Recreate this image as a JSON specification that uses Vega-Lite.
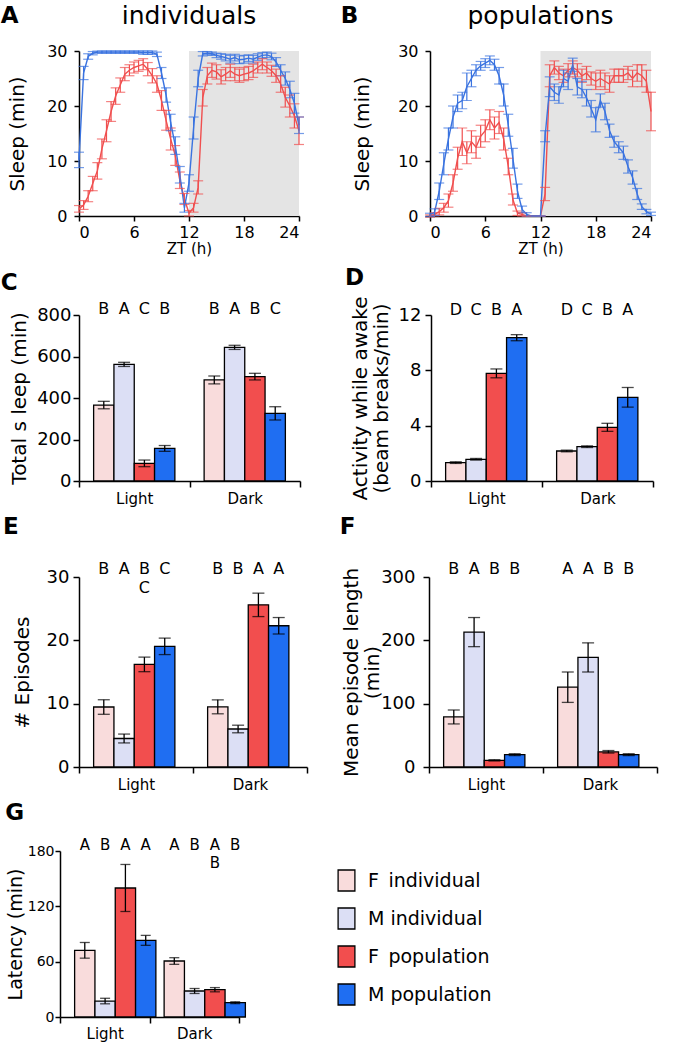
{
"$schema": "https://vega.github.io/schema/vega-lite/v6.json",
"padding": {"left": 0, "top": 4, "right": 5, "bottom": 5},
"config": {
  "font": "DejaVu Sans",
  "view": {"stroke": null},
  "axis": {"labelColor": "black", "titleColor": "black", "domainColor": "black", "tickColor": "black", "domainWidth": 1.5, "tickWidth": 1.5, "grid": false, "titleFontWeight": "normal", "tickSize": 6},
  "title": {"color": "black"},
  "text": {"color": "black"}
},
"datasets": {
 "ind": [
  {"s":"F","t":0,"v":1.3,"e":0.6},{"s":"F","t":0.5,"v":2,"e":0.8},{"s":"F","t":1,"v":3.6,"e":1},{"s":"F","t":1.5,"v":5.9,"e":1.3},{"s":"F","t":2,"v":8.2,"e":1.5},{"s":"F","t":2.5,"v":12.2,"e":1.8},{"s":"F","t":3,"v":15.5,"e":2},{"s":"F","t":3.5,"v":19,"e":1.8},{"s":"F","t":4,"v":21.8,"e":1.5},{"s":"F","t":4.5,"v":23.8,"e":1.3},{"s":"F","t":5,"v":25.8,"e":1.2},{"s":"F","t":5.5,"v":26.5,"e":1},{"s":"F","t":6,"v":27,"e":1},{"s":"F","t":6.5,"v":27.3,"e":1},{"s":"F","t":7,"v":27.6,"e":1},{"s":"F","t":7.5,"v":26.7,"e":1.2},{"s":"F","t":8,"v":25.5,"e":1.3},{"s":"F","t":8.5,"v":24,"e":1.5},{"s":"F","t":9,"v":21,"e":1.8},{"s":"F","t":9.5,"v":17.4,"e":1.8},{"s":"F","t":10,"v":14,"e":2},{"s":"F","t":10.5,"v":11,"e":1.8},{"s":"F","t":11,"v":6.5,"e":1.5},{"s":"F","t":11.5,"v":3.1,"e":1},{"s":"F","t":12,"v":0.5,"e":0.5},{"s":"F","t":12.5,"v":1.5,"e":0.8},{"s":"F","t":13,"v":5.2,"e":1.2},{"s":"F","t":13.5,"v":21.5,"e":1.5},{"s":"F","t":14,"v":25.5,"e":1.5},{"s":"F","t":14.5,"v":26.5,"e":1.3},{"s":"F","t":15,"v":26.2,"e":1.3},{"s":"F","t":15.5,"v":25.3,"e":1.3},{"s":"F","t":16,"v":25.8,"e":1.2},{"s":"F","t":16.5,"v":26.4,"e":1.2},{"s":"F","t":17,"v":25.8,"e":1.2},{"s":"F","t":17.5,"v":25.5,"e":1.2},{"s":"F","t":18,"v":25.8,"e":1.2},{"s":"F","t":18.5,"v":26,"e":1.2},{"s":"F","t":19,"v":26.4,"e":1.2},{"s":"F","t":19.5,"v":27,"e":1},{"s":"F","t":20,"v":27.6,"e":1},{"s":"F","t":20.5,"v":27,"e":1},{"s":"F","t":21,"v":26.4,"e":1},{"s":"F","t":21.5,"v":25.5,"e":1.2},{"s":"F","t":22,"v":24,"e":1.5},{"s":"F","t":22.5,"v":21.6,"e":1.8},{"s":"F","t":23,"v":20,"e":2},{"s":"F","t":23.5,"v":18.2,"e":2.2},{"s":"F","t":24,"v":15.5,"e":2.5},
  {"s":"M","t":0,"v":10.2,"e":1.4},{"s":"M","t":0.5,"v":26,"e":1.2},{"s":"M","t":1,"v":29,"e":0.5},{"s":"M","t":1.5,"v":29.6,"e":0.3},{"s":"M","t":2,"v":29.8,"e":0.2},{"s":"M","t":2.5,"v":29.8,"e":0.2},{"s":"M","t":3,"v":29.8,"e":0.2},{"s":"M","t":3.5,"v":29.8,"e":0.2},{"s":"M","t":4,"v":29.8,"e":0.2},{"s":"M","t":4.5,"v":29.8,"e":0.2},{"s":"M","t":5,"v":29.8,"e":0.2},{"s":"M","t":5.5,"v":29.8,"e":0.2},{"s":"M","t":6,"v":29.8,"e":0.2},{"s":"M","t":6.5,"v":29.8,"e":0.2},{"s":"M","t":7,"v":29.7,"e":0.3},{"s":"M","t":7.5,"v":29.7,"e":0.3},{"s":"M","t":8,"v":29.7,"e":0.3},{"s":"M","t":8.5,"v":29.4,"e":0.4},{"s":"M","t":9,"v":26,"e":1},{"s":"M","t":9.5,"v":22,"e":1.3},{"s":"M","t":10,"v":17,"e":1.5},{"s":"M","t":10.5,"v":12.8,"e":1.6},{"s":"M","t":11,"v":7.5,"e":1.5},{"s":"M","t":11.5,"v":1.5,"e":0.8},{"s":"M","t":12,"v":6,"e":1.5},{"s":"M","t":12.5,"v":16,"e":2},{"s":"M","t":13,"v":25,"e":1.5},{"s":"M","t":13.5,"v":29.5,"e":0.4},{"s":"M","t":14,"v":29.6,"e":0.3},{"s":"M","t":14.5,"v":29.5,"e":0.3},{"s":"M","t":15,"v":29.2,"e":0.4},{"s":"M","t":15.5,"v":29,"e":0.5},{"s":"M","t":16,"v":28.8,"e":0.6},{"s":"M","t":16.5,"v":28.5,"e":0.7},{"s":"M","t":17,"v":28.8,"e":0.6},{"s":"M","t":17.5,"v":28.4,"e":0.7},{"s":"M","t":18,"v":28.5,"e":0.7},{"s":"M","t":18.5,"v":28.7,"e":0.6},{"s":"M","t":19,"v":28.5,"e":0.7},{"s":"M","t":19.5,"v":28.9,"e":0.6},{"s":"M","t":20,"v":29.2,"e":0.5},{"s":"M","t":20.5,"v":29.3,"e":0.5},{"s":"M","t":21,"v":29,"e":0.6},{"s":"M","t":21.5,"v":28,"e":0.8},{"s":"M","t":22,"v":26.5,"e":1},{"s":"M","t":22.5,"v":25,"e":1.2},{"s":"M","t":23,"v":23,"e":1.5},{"s":"M","t":23.5,"v":20.5,"e":1.8},{"s":"M","t":24,"v":16.5,"e":1.5}
 ],
 "pop": [
  {"s":"F","t":0,"v":0,"e":0.2},{"s":"F","t":0.5,"v":0.3,"e":0.3},{"s":"F","t":1,"v":0.8,"e":0.6},{"s":"F","t":1.5,"v":1.5,"e":0.8},{"s":"F","t":2,"v":2.8,"e":1.2},{"s":"F","t":2.5,"v":6,"e":1.5},{"s":"F","t":3,"v":10.5,"e":2},{"s":"F","t":3.5,"v":13.5,"e":2.5},{"s":"F","t":4,"v":11.5,"e":2},{"s":"F","t":4.5,"v":13.5,"e":2},{"s":"F","t":5,"v":12.5,"e":2},{"s":"F","t":5.5,"v":14.5,"e":2},{"s":"F","t":6,"v":15.5,"e":2},{"s":"F","t":6.5,"v":17.5,"e":1.8},{"s":"F","t":7,"v":16,"e":2},{"s":"F","t":7.5,"v":17,"e":2},{"s":"F","t":8,"v":14,"e":2},{"s":"F","t":8.5,"v":9,"e":1.5},{"s":"F","t":9,"v":3,"e":1},{"s":"F","t":9.5,"v":0.5,"e":0.4},{"s":"F","t":10,"v":0.3,"e":0.3},{"s":"F","t":10.5,"v":0,"e":0},{"s":"F","t":11,"v":0,"e":0},{"s":"F","t":11.5,"v":0,"e":0},{"s":"F","t":12,"v":0,"e":0},{"s":"F","t":12.5,"v":4,"e":1.2},{"s":"F","t":13,"v":25.5,"e":2},{"s":"F","t":13.5,"v":27,"e":1.2},{"s":"F","t":14,"v":26,"e":1.2},{"s":"F","t":14.5,"v":25.5,"e":1.2},{"s":"F","t":15,"v":26.5,"e":1.2},{"s":"F","t":15.5,"v":27,"e":1.2},{"s":"F","t":16,"v":26.5,"e":1.2},{"s":"F","t":16.5,"v":25.5,"e":1.2},{"s":"F","t":17,"v":26,"e":1.2},{"s":"F","t":17.5,"v":25,"e":1.2},{"s":"F","t":18,"v":24.5,"e":1.5},{"s":"F","t":18.5,"v":25,"e":1.5},{"s":"F","t":19,"v":24.5,"e":1.5},{"s":"F","t":19.5,"v":24,"e":1.5},{"s":"F","t":20,"v":25.5,"e":1.2},{"s":"F","t":20.5,"v":25.5,"e":1.2},{"s":"F","t":21,"v":25.5,"e":1.2},{"s":"F","t":21.5,"v":26,"e":1.2},{"s":"F","t":22,"v":25,"e":1.5},{"s":"F","t":22.5,"v":26,"e":1.5},{"s":"F","t":23,"v":25.5,"e":2},{"s":"F","t":23.5,"v":24.5,"e":2},{"s":"F","t":24,"v":19,"e":3.5},
  {"s":"M","t":0,"v":0.2,"e":0.3},{"s":"M","t":0.5,"v":0.7,"e":0.6},{"s":"M","t":1,"v":4.5,"e":1.5},{"s":"M","t":1.5,"v":9.5,"e":2},{"s":"M","t":2,"v":14,"e":2},{"s":"M","t":2.5,"v":18,"e":2},{"s":"M","t":3,"v":20.5,"e":1.5},{"s":"M","t":3.5,"v":21,"e":1.5},{"s":"M","t":4,"v":23.5,"e":2.5},{"s":"M","t":4.5,"v":25,"e":1.5},{"s":"M","t":5,"v":26.5,"e":1},{"s":"M","t":5.5,"v":27.3,"e":0.8},{"s":"M","t":6,"v":27.8,"e":0.8},{"s":"M","t":6.5,"v":28.3,"e":0.8},{"s":"M","t":7,"v":27.5,"e":1},{"s":"M","t":7.5,"v":25.5,"e":1.5},{"s":"M","t":8,"v":22,"e":2},{"s":"M","t":8.5,"v":16.5,"e":2},{"s":"M","t":9,"v":10.5,"e":1.8},{"s":"M","t":9.5,"v":4.5,"e":1.3},{"s":"M","t":10,"v":1.2,"e":0.6},{"s":"M","t":10.5,"v":0.3,"e":0.3},{"s":"M","t":11,"v":0,"e":0},{"s":"M","t":11.5,"v":0,"e":0},{"s":"M","t":12,"v":0,"e":0},{"s":"M","t":12.5,"v":14.5,"e":1},{"s":"M","t":13,"v":23.5,"e":1.8},{"s":"M","t":13.5,"v":22.5,"e":1.5},{"s":"M","t":14,"v":22,"e":1.5},{"s":"M","t":14.5,"v":25,"e":1.5},{"s":"M","t":15,"v":24.5,"e":1.5},{"s":"M","t":15.5,"v":27.5,"e":1.2},{"s":"M","t":16,"v":23.5,"e":1.5},{"s":"M","t":16.5,"v":23,"e":1.5},{"s":"M","t":17,"v":21.5,"e":1.5},{"s":"M","t":17.5,"v":19.5,"e":1.5},{"s":"M","t":18,"v":17.5,"e":2.2},{"s":"M","t":18.5,"v":21,"e":1.2},{"s":"M","t":19,"v":19,"e":1.5},{"s":"M","t":19.5,"v":15.5,"e":1.2},{"s":"M","t":20,"v":13.5,"e":1},{"s":"M","t":20.5,"v":12.5,"e":1},{"s":"M","t":21,"v":11.5,"e":1.2},{"s":"M","t":21.5,"v":9,"e":1.2},{"s":"M","t":22,"v":7,"e":1.2},{"s":"M","t":22.5,"v":4,"e":1},{"s":"M","t":23,"v":1.7,"e":0.5},{"s":"M","t":23.5,"v":0.8,"e":0.4},{"s":"M","t":24,"v":0.4,"e":0.3}
 ],
 "bars": [
  {"panel":"C","cond":"Light","grp":"F individual","v":366,"lo":348,"hi":384,"sig":"B","sig2":""},
  {"panel":"C","cond":"Light","grp":"M individual","v":562,"lo":552,"hi":572,"sig":"A","sig2":""},
  {"panel":"C","cond":"Light","grp":"F population","v":85,"lo":69,"hi":101,"sig":"C","sig2":""},
  {"panel":"C","cond":"Light","grp":"M population","v":157,"lo":143,"hi":171,"sig":"B","sig2":""},
  {"panel":"C","cond":"Dark","grp":"F individual","v":487,"lo":468,"hi":506,"sig":"B","sig2":""},
  {"panel":"C","cond":"Dark","grp":"M individual","v":644,"lo":634,"hi":654,"sig":"A","sig2":""},
  {"panel":"C","cond":"Dark","grp":"F population","v":503,"lo":487,"hi":519,"sig":"B","sig2":""},
  {"panel":"C","cond":"Dark","grp":"M population","v":326,"lo":294,"hi":358,"sig":"C","sig2":""},
  {"panel":"D","cond":"Light","grp":"F individual","v":1.33,"lo":1.27,"hi":1.39,"sig":"D","sig2":""},
  {"panel":"D","cond":"Light","grp":"M individual","v":1.57,"lo":1.51,"hi":1.63,"sig":"C","sig2":""},
  {"panel":"D","cond":"Light","grp":"F population","v":7.78,"lo":7.46,"hi":8.1,"sig":"B","sig2":""},
  {"panel":"D","cond":"Light","grp":"M population","v":10.36,"lo":10.14,"hi":10.58,"sig":"A","sig2":""},
  {"panel":"D","cond":"Dark","grp":"F individual","v":2.17,"lo":2.11,"hi":2.23,"sig":"D","sig2":""},
  {"panel":"D","cond":"Dark","grp":"M individual","v":2.48,"lo":2.42,"hi":2.54,"sig":"C","sig2":""},
  {"panel":"D","cond":"Dark","grp":"F population","v":3.88,"lo":3.59,"hi":4.17,"sig":"B","sig2":""},
  {"panel":"D","cond":"Dark","grp":"M population","v":6.05,"lo":5.34,"hi":6.76,"sig":"A","sig2":""},
  {"panel":"E","cond":"Light","grp":"F individual","v":9.47,"lo":8.32,"hi":10.62,"sig":"B","sig2":""},
  {"panel":"E","cond":"Light","grp":"M individual","v":4.5,"lo":3.8,"hi":5.2,"sig":"A","sig2":""},
  {"panel":"E","cond":"Light","grp":"F population","v":16.2,"lo":15.05,"hi":17.35,"sig":"B","sig2":"C"},
  {"panel":"E","cond":"Light","grp":"M population","v":19.05,"lo":17.75,"hi":20.35,"sig":"C","sig2":""},
  {"panel":"E","cond":"Dark","grp":"F individual","v":9.5,"lo":8.4,"hi":10.6,"sig":"B","sig2":""},
  {"panel":"E","cond":"Dark","grp":"M individual","v":6,"lo":5.4,"hi":6.6,"sig":"B","sig2":""},
  {"panel":"E","cond":"Dark","grp":"F population","v":25.6,"lo":23.75,"hi":27.45,"sig":"A","sig2":""},
  {"panel":"E","cond":"Dark","grp":"M population","v":22.3,"lo":21,"hi":23.6,"sig":"A","sig2":""},
  {"panel":"F","cond":"Light","grp":"F individual","v":79,"lo":68,"hi":90,"sig":"B","sig2":""},
  {"panel":"F","cond":"Light","grp":"M individual","v":213,"lo":190,"hi":236,"sig":"A","sig2":""},
  {"panel":"F","cond":"Light","grp":"F population","v":10.5,"lo":9.5,"hi":11.5,"sig":"B","sig2":""},
  {"panel":"F","cond":"Light","grp":"M population","v":19.5,"lo":18,"hi":21,"sig":"B","sig2":""},
  {"panel":"F","cond":"Dark","grp":"F individual","v":126,"lo":102,"hi":150,"sig":"A","sig2":""},
  {"panel":"F","cond":"Dark","grp":"M individual","v":173,"lo":150,"hi":196,"sig":"A","sig2":""},
  {"panel":"F","cond":"Dark","grp":"F population","v":24,"lo":22,"hi":26,"sig":"B","sig2":""},
  {"panel":"F","cond":"Dark","grp":"M population","v":19.5,"lo":18,"hi":21,"sig":"B","sig2":""},
  {"panel":"G","cond":"Light","grp":"F individual","v":72.3,"lo":63.8,"hi":80.8,"sig":"A","sig2":""},
  {"panel":"G","cond":"Light","grp":"M individual","v":17.3,"lo":14.3,"hi":20.3,"sig":"B","sig2":""},
  {"panel":"G","cond":"Light","grp":"F population","v":139.9,"lo":114.4,"hi":165.4,"sig":"A","sig2":""},
  {"panel":"G","cond":"Light","grp":"M population","v":83.1,"lo":77.7,"hi":88.5,"sig":"A","sig2":""},
  {"panel":"G","cond":"Dark","grp":"F individual","v":60.7,"lo":57.1,"hi":64.3,"sig":"A","sig2":""},
  {"panel":"G","cond":"Dark","grp":"M individual","v":28.2,"lo":25.5,"hi":30.9,"sig":"B","sig2":""},
  {"panel":"G","cond":"Dark","grp":"F population","v":29.6,"lo":27.3,"hi":31.9,"sig":"A","sig2":"B"},
  {"panel":"G","cond":"Dark","grp":"M population","v":15.5,"lo":14.5,"hi":16.5,"sig":"B","sig2":""}
 ]
},
"spacing": 10,
"resolve": {"scale": {"fill": "independent", "color": "independent"}, "legend": {"fill": "independent", "color": "independent"}},
"vconcat": [
 {"spacing": 36, "hconcat": [
  {"title": {"text": "A", "anchor": "start", "frame": "bounds", "fontSize": 23, "fontWeight": "bold", "offset": -24, "dx": -7},
   "vconcat": [{
    "width": 220, "height": 165,
    "title": {"text": "individuals", "fontSize": 25, "fontWeight": "normal", "offset": 14, "anchor": "middle"},
    "layer": [
     {"data": {"values": [{"a": 12, "b": 24, "lo": 0, "hi": 30}]},
      "mark": {"type": "rect", "color": "#e4e4e4"},
      "encoding": {
       "x": {"field": "a", "type": "quantitative", "title": "ZT (h)", "scale": {"domain": [0, 24], "nice": false}, "axis": {"values": [0, 6, 12, 18, 24], "labelFontSize": 16, "titleFontSize": 15, "titlePadding": 1, "labelPadding": 3, "tickSize": 5}},
       "x2": {"field": "b"},
       "y": {"field": "lo", "type": "quantitative", "title": "Sleep (min)", "scale": {"domain": [0, 30], "nice": false}, "axis": {"values": [0, 10, 20, 30], "labelFontSize": 16, "titleFontSize": 20, "titlePadding": 19, "labelPadding": 7, "tickSize": 5}},
       "y2": {"field": "hi"}}},
     {"data": {"name": "ind"}, "mark": {"type": "line", "strokeWidth": 1.4},
      "encoding": {"x": {"field": "t", "type": "quantitative", "title": "ZT (h)"}, "y": {"field": "v", "type": "quantitative", "title": "Sleep (min)"},
       "color": {"field": "s", "type": "nominal", "scale": {"domain": ["F", "M"], "range": ["#f04f4f", "#3a73e0"]}, "legend": null}}},
     {"data": {"name": "ind"}, "mark": {"type": "errorbar", "ticks": {"size": 10}, "thickness": 1.2},
      "encoding": {"x": {"field": "t", "type": "quantitative", "title": "ZT (h)"}, "y": {"field": "v", "type": "quantitative", "title": "Sleep (min)"}, "yError": {"field": "e"},
       "color": {"field": "s", "type": "nominal", "scale": {"domain": ["F", "M"], "range": ["#f04f4f", "#3a73e0"]}, "legend": null}}}
    ]}]},
  {"title": {"text": "B", "anchor": "start", "frame": "bounds", "fontSize": 23, "fontWeight": "bold", "offset": -24, "dx": -12},
   "vconcat": [{
    "width": 221, "height": 165,
    "title": {"text": "populations", "fontSize": 25, "fontWeight": "normal", "offset": 14, "anchor": "middle"},
    "layer": [
     {"data": {"values": [{"a": 12, "b": 24, "lo": 0, "hi": 30}]},
      "mark": {"type": "rect", "color": "#e4e4e4"},
      "encoding": {
       "x": {"field": "a", "type": "quantitative", "title": "ZT (h)", "scale": {"domain": [0, 24], "nice": false}, "axis": {"values": [0, 6, 12, 18, 24], "labelFontSize": 16, "titleFontSize": 15, "titlePadding": 1, "labelPadding": 3, "tickSize": 5}},
       "x2": {"field": "b"},
       "y": {"field": "lo", "type": "quantitative", "title": "Sleep (min)", "scale": {"domain": [0, 30], "nice": false}, "axis": {"values": [0, 10, 20, 30], "labelFontSize": 16, "titleFontSize": 20, "titlePadding": 25, "labelPadding": 7, "tickSize": 5}},
       "y2": {"field": "hi"}}},
     {"data": {"name": "pop"}, "mark": {"type": "line", "strokeWidth": 1.4},
      "encoding": {"x": {"field": "t", "type": "quantitative", "title": "ZT (h)"}, "y": {"field": "v", "type": "quantitative", "title": "Sleep (min)"},
       "color": {"field": "s", "type": "nominal", "scale": {"domain": ["F", "M"], "range": ["#f04f4f", "#3a73e0"]}, "legend": null}}},
     {"data": {"name": "pop"}, "mark": {"type": "errorbar", "ticks": {"size": 10}, "thickness": 1.2},
      "encoding": {"x": {"field": "t", "type": "quantitative", "title": "ZT (h)"}, "y": {"field": "v", "type": "quantitative", "title": "Sleep (min)"}, "yError": {"field": "e"},
       "color": {"field": "s", "type": "nominal", "scale": {"domain": ["F", "M"], "range": ["#f04f4f", "#3a73e0"]}, "legend": null}}}
    ]}]}
 ]},
 {"spacing": 44, "hconcat": [
  {"title": {"text": "C", "anchor": "start", "frame": "bounds", "fontSize": 23, "fontWeight": "bold", "dx": -9, "offset": 6},
   "width": 221, "height": 166, "data": {"name": "bars"}, "transform": [{"filter": "datum.panel === 'C'"}],
   "encoding": {
    "x": {"field": "cond", "type": "nominal", "sort": ["Light", "Dark"], "title": null, "scale": {"paddingInner": 0, "paddingOuter": 0}, "axis": {"tickBand": "extent", "labelAngle": 0, "labelFontSize": 15, "labelPadding": 4, "tickSize": 6}},
    "xOffset": {"field": "grp", "type": "nominal", "sort": ["F individual", "M individual", "F population", "M population"], "scale": {"paddingInner": 0, "paddingOuter": 0.72}}},
   "layer": [
    {"mark": {"type": "bar", "stroke": "black", "strokeWidth": 1.3},
     "encoding": {"y": {"field": "v", "type": "quantitative", "title": "Total s leep (min)", "scale": {"domain": [0, 800], "nice": false}, "axis": {"values": [0, 200, 400, 600, 800], "labelFontSize": 18, "titleFontSize": 20, "titlePadding": 7, "labelPadding": 2}},
      "fill": {"field": "grp", "type": "nominal", "scale": {"domain": ["F individual", "M individual", "F population", "M population"], "range": ["#f9dcdc", "#dcdff5", "#f24e4e", "#1f6ef2"]}, "legend": null}}},
    {"mark": {"type": "rule", "color": "black", "strokeWidth": 1.3}, "encoding": {"y": {"field": "lo", "type": "quantitative", "title": "Total s leep (min)"}, "y2": {"field": "hi"}}},
    {"mark": {"type": "tick", "color": "black", "thickness": 1.3, "size": 12}, "encoding": {"y": {"field": "lo", "type": "quantitative", "title": "Total s leep (min)"}}},
    {"mark": {"type": "tick", "color": "black", "thickness": 1.3, "size": 12}, "encoding": {"y": {"field": "hi", "type": "quantitative", "title": "Total s leep (min)"}}},
    {"mark": {"type": "text", "baseline": "alphabetic", "dy": -1, "fontSize": 16}, "encoding": {"y": {"datum": 800, "type": "quantitative", "title": "Total s leep (min)"}, "text": {"field": "sig"}}}
   ]},
  {"title": {"text": "D", "anchor": "start", "frame": "bounds", "fontSize": 23, "fontWeight": "bold", "dx": -5, "offset": 6},
   "width": 222, "height": 166, "data": {"name": "bars"}, "transform": [{"filter": "datum.panel === 'D'"}],
   "encoding": {
    "x": {"field": "cond", "type": "nominal", "sort": ["Light", "Dark"], "title": null, "scale": {"paddingInner": 0, "paddingOuter": 0}, "axis": {"tickBand": "extent", "labelAngle": 0, "labelFontSize": 15, "labelPadding": 4, "tickSize": 6}},
    "xOffset": {"field": "grp", "type": "nominal", "sort": ["F individual", "M individual", "F population", "M population"], "scale": {"paddingInner": 0, "paddingOuter": 0.73}}},
   "layer": [
    {"mark": {"type": "bar", "stroke": "black", "strokeWidth": 1.3},
     "encoding": {"y": {"field": "v", "type": "quantitative", "title": ["Activity while awake", "(beam breaks/min)"], "scale": {"domain": [0, 12], "nice": false}, "axis": {"values": [0, 4, 8, 12], "labelFontSize": 18, "titleFontSize": 20, "titleLineHeight": 21, "titlePadding": 7, "labelPadding": 4}},
      "fill": {"field": "grp", "type": "nominal", "scale": {"domain": ["F individual", "M individual", "F population", "M population"], "range": ["#f9dcdc", "#dcdff5", "#f24e4e", "#1f6ef2"]}, "legend": null}}},
    {"mark": {"type": "rule", "color": "black", "strokeWidth": 1.3}, "encoding": {"y": {"field": "lo", "type": "quantitative", "title": ["Activity while awake", "(beam breaks/min)"]}, "y2": {"field": "hi"}}},
    {"mark": {"type": "tick", "color": "black", "thickness": 1.3, "size": 12}, "encoding": {"y": {"field": "lo", "type": "quantitative", "title": ["Activity while awake", "(beam breaks/min)"]}}},
    {"mark": {"type": "tick", "color": "black", "thickness": 1.3, "size": 12}, "encoding": {"y": {"field": "hi", "type": "quantitative", "title": ["Activity while awake", "(beam breaks/min)"]}}},
    {"mark": {"type": "text", "baseline": "alphabetic", "dy": 0, "fontSize": 16}, "encoding": {"y": {"datum": 12, "type": "quantitative", "title": ["Activity while awake", "(beam breaks/min)"]}, "text": {"field": "sig"}}}
   ]}
 ]},
 {"spacing": 31, "hconcat": [
  {"title": {"text": "E", "anchor": "start", "frame": "bounds", "fontSize": 23, "fontWeight": "bold", "dx": -9, "offset": 22},
   "width": 228, "height": 190, "data": {"name": "bars"}, "transform": [{"filter": "datum.panel === 'E'"}],
   "encoding": {
    "x": {"field": "cond", "type": "nominal", "sort": ["Light", "Dark"], "title": null, "scale": {"paddingInner": 0, "paddingOuter": 0}, "axis": {"tickBand": "extent", "labelAngle": 0, "labelFontSize": 15, "labelPadding": 4, "tickSize": 6}},
    "xOffset": {"field": "grp", "type": "nominal", "sort": ["F individual", "M individual", "F population", "M population"], "scale": {"paddingInner": 0, "paddingOuter": 0.71}}},
   "layer": [
    {"mark": {"type": "bar", "stroke": "black", "strokeWidth": 1.3},
     "encoding": {"y": {"field": "v", "type": "quantitative", "title": "# Episodes", "scale": {"domain": [0, 30], "nice": false}, "axis": {"values": [0, 10, 20, 30], "labelFontSize": 18, "titleFontSize": 20, "titlePadding": 14, "labelPadding": 4}},
      "fill": {"field": "grp", "type": "nominal", "scale": {"domain": ["F individual", "M individual", "F population", "M population"], "range": ["#f9dcdc", "#dcdff5", "#f24e4e", "#1f6ef2"]}, "legend": null}}},
    {"mark": {"type": "rule", "color": "black", "strokeWidth": 1.3}, "encoding": {"y": {"field": "lo", "type": "quantitative", "title": "# Episodes"}, "y2": {"field": "hi"}}},
    {"mark": {"type": "tick", "color": "black", "thickness": 1.3, "size": 12}, "encoding": {"y": {"field": "lo", "type": "quantitative", "title": "# Episodes"}}},
    {"mark": {"type": "tick", "color": "black", "thickness": 1.3, "size": 12}, "encoding": {"y": {"field": "hi", "type": "quantitative", "title": "# Episodes"}}},
    {"mark": {"type": "text", "baseline": "alphabetic", "dy": -3, "fontSize": 16}, "encoding": {"y": {"datum": 30, "type": "quantitative", "title": "# Episodes"}, "text": {"field": "sig"}}},
    {"mark": {"type": "text", "baseline": "top", "dy": 3, "fontSize": 16}, "encoding": {"y": {"datum": 30, "type": "quantitative", "title": "# Episodes"}, "text": {"field": "sig2"}}}
   ]},
  {"title": {"text": "F", "anchor": "start", "frame": "bounds", "fontSize": 23, "fontWeight": "bold", "dx": -2, "offset": 22},
   "width": 228, "height": 190, "data": {"name": "bars"}, "transform": [{"filter": "datum.panel === 'F'"}],
   "encoding": {
    "x": {"field": "cond", "type": "nominal", "sort": ["Light", "Dark"], "title": null, "scale": {"paddingInner": 0, "paddingOuter": 0}, "axis": {"tickBand": "extent", "labelAngle": 0, "labelFontSize": 15, "labelPadding": 4, "tickSize": 6}},
    "xOffset": {"field": "grp", "type": "nominal", "sort": ["F individual", "M individual", "F population", "M population"], "scale": {"paddingInner": 0, "paddingOuter": 0.71}}},
   "layer": [
    {"mark": {"type": "bar", "stroke": "black", "strokeWidth": 1.3},
     "encoding": {"y": {"field": "v", "type": "quantitative", "title": ["Mean episode length", "(min)"], "scale": {"domain": [0, 300], "nice": false}, "axis": {"values": [0, 100, 200, 300], "labelFontSize": 18, "titleFontSize": 20, "titleLineHeight": 21, "titlePadding": -2, "labelPadding": 8}},
      "fill": {"field": "grp", "type": "nominal", "scale": {"domain": ["F individual", "M individual", "F population", "M population"], "range": ["#f9dcdc", "#dcdff5", "#f24e4e", "#1f6ef2"]}, "legend": null}}},
    {"mark": {"type": "rule", "color": "black", "strokeWidth": 1.3}, "encoding": {"y": {"field": "lo", "type": "quantitative", "title": ["Mean episode length", "(min)"]}, "y2": {"field": "hi"}}},
    {"mark": {"type": "tick", "color": "black", "thickness": 1.3, "size": 12}, "encoding": {"y": {"field": "lo", "type": "quantitative", "title": ["Mean episode length", "(min)"]}}},
    {"mark": {"type": "tick", "color": "black", "thickness": 1.3, "size": 12}, "encoding": {"y": {"field": "hi", "type": "quantitative", "title": ["Mean episode length", "(min)"]}}},
    {"mark": {"type": "text", "baseline": "alphabetic", "dy": -3, "fontSize": 16}, "encoding": {"y": {"datum": 300, "type": "quantitative", "title": ["Mean episode length", "(min)"]}, "text": {"field": "sig"}}}
   ]}
 ]},
 {"hconcat": [
 {"title": {"text": "G", "anchor": "start", "frame": "bounds", "fontSize": 23, "fontWeight": "bold", "dx": -1, "offset": 13},
  "width": 160, "height": 166, "data": {"name": "bars"}, "transform": [{"filter": "datum.panel === 'G'"}],
  "encoding": {
   "x": {"field": "cond", "type": "nominal", "sort": ["Light", "Dark"], "title": null, "scale": {"paddingInner": 0, "paddingOuter": 0, "range": [-19, 160]}, "axis": {"tickBand": "extent", "labelAngle": 0, "labelFontSize": 15, "labelPadding": 3, "tickSize": 6}},
   "xOffset": {"field": "grp", "type": "nominal", "sort": ["F individual", "M individual", "F population", "M population"], "scale": {"paddingInner": 0, "paddingOuter": 0.75}}},
  "layer": [
   {"mark": {"type": "bar", "stroke": "black", "strokeWidth": 1.3},
    "encoding": {"y": {"field": "v", "type": "quantitative", "title": "Latency (min)", "scale": {"domain": [0, 180], "nice": false}, "axis": {"values": [0, 60, 120, 180], "offset": 19, "labelFontSize": 14, "titleFontSize": 19, "titlePadding": 2, "labelPadding": 1, "tickSize": 5}},
     "fill": {"field": "grp", "type": "nominal", "scale": {"domain": ["F individual", "M individual", "F population", "M population"], "range": ["#f9dcdc", "#dcdff5", "#f24e4e", "#1f6ef2"]},
      "legend": {"orient": "none", "legendX": 256, "legendY": 18, "title": null, "symbolType": "M-0.8,-1H0.8V1H-0.8Z", "symbolSize": 441, "symbolStrokeColor": "black", "symbolStrokeWidth": 1.3, "labelFontSize": 19, "labelOffset": 10, "rowPadding": 11, "labelColor": "black", "labelExpr": "datum.label == 'F individual' ? 'F\u2002individual' : datum.label == 'F population' ? 'F\u2002population' : datum.label"}}}},
   {"mark": {"type": "rule", "color": "black", "strokeWidth": 1.3}, "encoding": {"y": {"field": "lo", "type": "quantitative", "title": "Latency (min)"}, "y2": {"field": "hi"}}},
   {"mark": {"type": "tick", "color": "black", "thickness": 1.3, "size": 10}, "encoding": {"y": {"field": "lo", "type": "quantitative", "title": "Latency (min)"}}},
   {"mark": {"type": "tick", "color": "black", "thickness": 1.3, "size": 10}, "encoding": {"y": {"field": "hi", "type": "quantitative", "title": "Latency (min)"}}},
   {"mark": {"type": "text", "baseline": "alphabetic", "dy": -1, "fontSize": 15}, "encoding": {"y": {"datum": 180, "type": "quantitative", "title": "Latency (min)"}, "text": {"field": "sig"}}},
   {"mark": {"type": "text", "baseline": "top", "dy": 5, "fontSize": 15}, "encoding": {"y": {"datum": 180, "type": "quantitative", "title": "Latency (min)"}, "text": {"field": "sig2"}}}
  ]}
 ]}
]
}
